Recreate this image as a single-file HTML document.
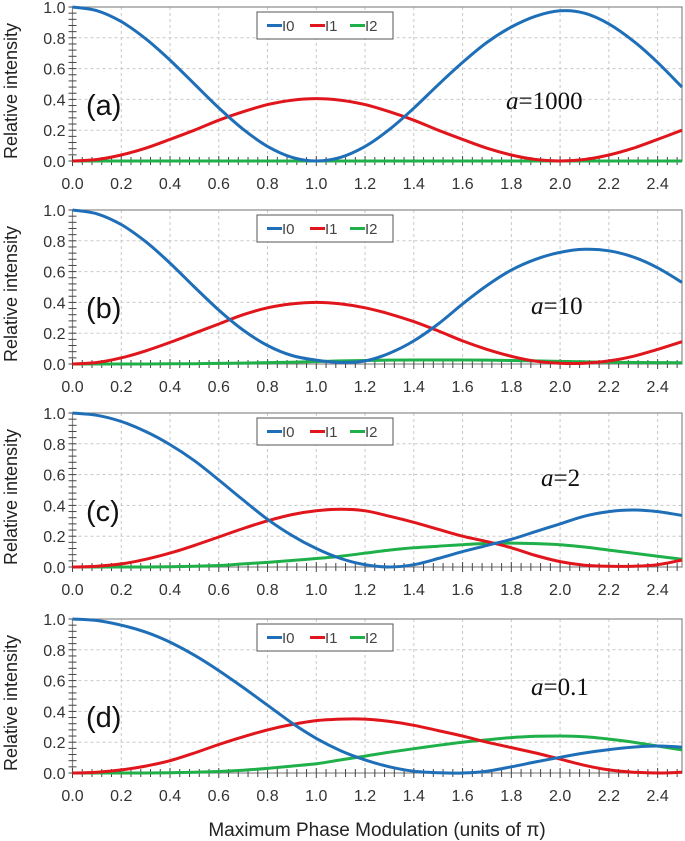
<!DOCTYPE html>
<html><head><meta charset="utf-8">
<style>
html,body{margin:0;padding:0;background:#fff;}
svg{display:block;font-family:"Liberation Sans",sans-serif;}
</style></head>
<body>
<svg id="fig" width="685" height="841" xmlns="http://www.w3.org/2000/svg"></svg>
<script>
const xValues=[0,.1,.2,.3,.4,.5,.6,.7,.8,.9,1.0,1.1,1.2,1.3,1.4,1.5,1.6,1.7,1.8,1.9,2.0,2.1,2.2,2.3,2.4,2.5];
const xTicks=["0.0","0.2","0.4","0.6","0.8","1.0","1.2","1.4","1.6","1.8","2.0","2.2","2.4"];
const yTicks=["0.0","0.2","0.4","0.6","0.8","1.0"];
const panelLabels=["(a)","(b)","(c)","(d)"];
const aValues=["1000","10","2","0.1"];
const seriesNames=["I0","I1","I2"];
const aI0=[1,.976,.905,.794,.655,.5,.345,.206,.095,.024,0,.024,.095,.205,.343,.495,.64,.77,.87,.94,.975,.96,.89,.78,.64,.48];
const aI1=[0,.01,.039,.083,.14,.2,.265,.32,.366,.395,.405,.395,.366,.32,.265,.2,.14,.083,.039,.01,0,.01,.039,.083,.14,.2];
const aI2=[0,0,0,0,0,0,0,0,0,0,0,0,0,0,0,0,0,0,0,0,0,0,0,0,0,0];
const bI0=[1,.975,.905,.795,.655,.5,.35,.22,.12,.055,.025,.01,.02,.07,.15,.26,.39,.51,.61,.68,.725,.745,.735,.695,.625,.53];
const bI1=[0,.01,.04,.085,.14,.2,.26,.32,.365,.39,.4,.39,.365,.325,.275,.215,.15,.095,.05,.018,.005,.005,.02,.05,.095,.145];
const bI2=[0,0,0,0,.001,.002,.004,.006,.009,.012,.016,.02,.023,.025,.026,.026,.026,.025,.023,.02,.017,.014,.012,.01,.009,.008];
const cI0=[1,.985,.945,.88,.795,.69,.565,.435,.31,.205,.12,.055,.015,0,.015,.055,.10,.14,.18,.23,.28,.33,.36,.37,.36,.335];
const cI1=[0,.005,.02,.05,.09,.14,.195,.25,.30,.34,.365,.375,.365,.33,.29,.245,.2,.165,.125,.075,.035,.012,.005,.005,.015,.045];
const cI2=[0,0,0,0,.002,.005,.01,.02,.03,.042,.055,.07,.09,.11,.125,.135,.145,.153,.155,.152,.145,.13,.11,.09,.07,.05];
const dI0=[1,.99,.96,.915,.85,.765,.665,.555,.44,.325,.225,.145,.085,.04,.012,.002,0,.012,.04,.072,.102,.13,.152,.168,.175,.168];
const dI1=[0,.005,.02,.045,.08,.13,.185,.235,.28,.315,.34,.35,.35,.335,.31,.275,.24,.2,.165,.13,.09,.05,.02,.005,0,.005];
const dI2=[0,0,0,0,.002,.005,.01,.018,.03,.045,.06,.085,.11,.135,.158,.18,.2,.215,.23,.238,.24,.235,.22,.2,.175,.15];
const panels=[[aI0,aI1,aI2],[bI0,bI1,bI2],[cI0,cI1,cI2],[dI0,dI1,dI2]];

const NS="http://www.w3.org/2000/svg";
const svg=document.getElementById('fig');
const colors=["#1f6fb8","#e0161c","#1fb04a"];
const X0=72.5,X1=682,XMAX=2.5;
const tops=[7,210,413,619],H=154;
function sx(v){return X0+v/XMAX*(X1-X0);}
function mk(tag,attrs,parent){const e=document.createElementNS(NS,tag);for(const k in attrs)e.setAttribute(k,attrs[k]);(parent||svg).appendChild(e);return e;}
function smooth(pts){
  let d='M'+pts[0][0].toFixed(1)+','+pts[0][1].toFixed(1);
  for(let i=0;i<pts.length-1;i++){
    const p0=pts[Math.max(0,i-1)],p1=pts[i],p2=pts[i+1],p3=pts[Math.min(pts.length-1,i+2)];
    const c1=[p1[0]+(p2[0]-p0[0])/6,p1[1]+(p2[1]-p0[1])/6];
    const c2=[p2[0]-(p3[0]-p1[0])/6,p2[1]-(p3[1]-p1[1])/6];
    d+=' C'+c1[0].toFixed(1)+','+c1[1].toFixed(1)+' '+c2[0].toFixed(1)+','+c2[1].toFixed(1)+' '+p2[0].toFixed(1)+','+p2[1].toFixed(1);
  }
  return d;
}

panels.forEach((ser,p)=>{
  const top=tops[p],bot=top+H;
  const sy=v=>bot-v*H;
  const g=mk('g',{});
  
  
  for(let i=1;i<=12;i++){const x=sx(i*0.2);const l=mk('line',{x1:x,x2:x,y1:top,y2:bot,stroke:'#c8c8c8','stroke-dasharray':'3,3','stroke-width':1},g);}
  for(let i=1;i<=4;i++){const y=sy(i*0.2);const l=mk('line',{x1:X0,x2:X1,y1:y,y2:y,stroke:'#c8c8c8','stroke-dasharray':'3,3','stroke-width':1},g);}
  const fr=mk('rect',{x:X0,y:top,width:X1-X0,height:H,fill:'none',stroke:'#8a8a8a','stroke-width':1.2},g);
  
  for(let i=0;i<=62;i++){const x=sx(i*0.04);const big=i%5==0;mk('line',{x1:x,x2:x,y1:bot-(big?5:4),y2:bot+(big?5:4),stroke:'#444','stroke-width':1},g);}
  for(let i=0;i<=25;i++){const y=sy(i*0.04);mk('line',{x1:X0-4,x2:X0+4,y1:y,y2:y,stroke:'#444','stroke-width':1},g);}
  xTicks.forEach((t,i)=>{const tx=mk('text',{x:sx(i*0.2),y:bot+28,'font-size':16,'text-anchor':'middle',fill:'#333'},g);tx.textContent=t;});
  yTicks.forEach((t,i)=>{const tx=mk('text',{x:X0-7,y:sy(i*0.2)+6,'font-size':16,'text-anchor':'end',fill:'#333'},g);tx.textContent=t;});
  const yt=mk('text',{x:0,y:0,'font-size':18,'text-anchor':'middle',fill:'#222',transform:`translate(17,${top+H/2+7}) rotate(-90)`},g);
  yt.textContent='Relative intensity';
  [2,1,0].forEach(s=>{
    const pts=ser[s].map((v,i)=>[sx(xValues[i]),sy(v)]);
    const pth=mk('path',{d:smooth(pts),fill:'none',stroke:colors[s],'stroke-width':3,'stroke-linejoin':'round'},g);
    
    
  });
  const lg=mk('g',{},g);
  
  mk('rect',{x:257,y:top+5,width:136,height:27,fill:'#fff',stroke:'#555','stroke-width':1},lg);
  [267,310,350].forEach((lx,s)=>{
    mk('line',{x1:lx,x2:lx+15,y1:top+18.5,y2:top+18.5,stroke:colors[s],'stroke-width':3},lg);
    const t=mk('text',{x:lx+15,y:top+24,'font-size':15,fill:'#444'},lg);t.textContent=seriesNames[s];
    
  });
  const pl=mk('text',{x:86,y:top+108,'font-size':29,fill:'#111'},g);
  pl.textContent=panelLabels[p];
  const ax=[506,531,541,531][p], ay=[top+102,top+104,top+73,top+76][p];
  const at=mk('text',{x:ax,y:ay,'font-size':25,fill:'#111','font-family':'"Liberation Serif",serif'},g);
  
  const it=document.createElementNS(NS,'tspan');it.setAttribute('font-style','italic');it.textContent='a';at.appendChild(it);
  at.appendChild(document.createTextNode('='+aValues[p]));
});
const xt=mk('text',{x:377,y:836,'font-size':19,'text-anchor':'middle',fill:'#222'});
xt.textContent='Maximum Phase Modulation (units of π)';


</script>
</body></html>
